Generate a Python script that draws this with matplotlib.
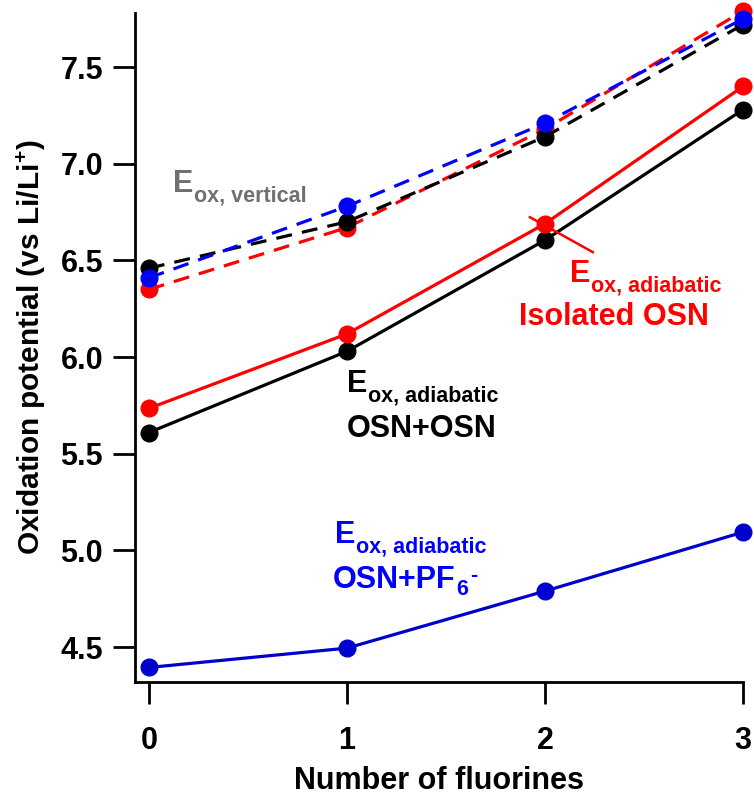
import matplotlib
matplotlib.use("Agg")
import matplotlib.pyplot as plt

# ---- data ----
n_fluorines = [0, 1, 2, 3]
vert_osn_osn = [6.46, 6.70, 7.14, 7.72]
vert_isolated = [6.35, 6.67, 7.18, 7.79]
vert_pf6 = [6.41, 6.78, 7.21, 7.75]
adia_osn_osn = [5.61, 6.03, 6.605, 7.28]
adia_isolated = [5.735, 6.12, 6.69, 7.40]
adia_pf6 = [4.395, 4.495, 4.79, 5.095]

xticks = [0, 1, 2, 3]
yticks = [4.5, 5.0, 5.5, 6.0, 6.5, 7.0, 7.5]

plt.rcParams['font.family'] = ['Liberation Sans', 'DejaVu Sans']
plt.rcParams['font.weight'] = 'bold'
plt.rcParams['mathtext.fontset'] = 'custom'
plt.rcParams['mathtext.bf'] = 'Liberation Sans:bold'
plt.rcParams['mathtext.rm'] = 'Liberation Sans:bold'

FS = 22
SUB = 15.5
RED = '#FF0000'
BLUE = '#0000FF'
DBLUE = '#0000CD'
BLACK = '#000000'
GRAY = '#707070'

fig = plt.figure(figsize=(7.54, 7.98), dpi=100)
ax = fig.add_axes([0.179, 0.1454, 0.9854 - 0.179, 0.9837 - 0.1454])

lw = 2.3
ms = 12
dash = (5, 3.2)

# dashed (vertical)
ax.plot(n_fluorines, vert_isolated, color=RED, lw=lw, dashes=dash, marker='o', ms=ms, clip_on=False, zorder=3)
ax.plot(n_fluorines, vert_osn_osn, color=BLACK, lw=lw, dashes=dash, marker='o', ms=ms, clip_on=False, zorder=3)
ax.plot(n_fluorines, vert_pf6, color=BLUE, lw=lw, dashes=dash, marker='o', ms=ms, clip_on=False, zorder=3)

# solid (adiabatic)
ax.plot(n_fluorines, adia_osn_osn, color=BLACK, lw=lw, marker='o', ms=ms, clip_on=False, zorder=3)
ax.plot(n_fluorines, adia_isolated, color=RED, lw=lw, marker='o', ms=ms, clip_on=False, zorder=4)
ax.plot(n_fluorines, adia_pf6, color=DBLUE, lw=lw, marker='o', ms=ms, clip_on=False, zorder=3)

ax.set_xlim(-0.07, 3.0)
ax.set_ylim(4.32, 7.78)
ax.set_xticks(xticks)
ax.set_xticklabels([str(v) for v in xticks])
ax.set_yticks(yticks)
ax.set_yticklabels([f"{v:.1f}" for v in yticks])

for s in ['top', 'right']:
    ax.spines[s].set_visible(False)
for s in ['left', 'bottom']:
    ax.spines[s].set_linewidth(2)

ax.tick_params(axis='both', width=2, length=16, labelsize=FS, direction='out')
ax.tick_params(axis='y', pad=7)
ax.tick_params(axis='x', pad=16)
for lab in ax.get_xticklabels() + ax.get_yticklabels():
    lab.set_fontweight('bold')

ax.set_xlabel('Number of fluorines', fontsize=FS, fontweight='bold', labelpad=7)
ax.set_ylabel(r'Oxidation potential (vs Li/Li$^{\mathbf{+}}$)', fontsize=21.5, fontweight='bold', labelpad=9)


def e_label(x, y, sub, color):
    t = ax.text(x, y, 'E', color=color, fontsize=FS, fontweight='bold', ha='left', va='baseline')
    ax.annotate(sub, xy=(1, y), xycoords=(t, 'data'), xytext=(0.5, -6.5), textcoords='offset points',
                color=color, fontsize=SUB, fontweight='bold', ha='left', va='baseline')


# annotations
e_label(0.121, 6.853, 'ox, vertical', GRAY)

e_label(1.0, 5.819, 'ox, adiabatic', BLACK)
ax.text(1.0, 5.586, 'OSN+OSN', color=BLACK, fontsize=FS, fontweight='bold', ha='left', va='baseline')

e_label(2.126, 6.388, 'ox, adiabatic', RED)
ax.text(1.869, 6.165, 'Isolated OSN', color=RED, fontsize=FS, fontweight='bold', ha='left', va='baseline')
ax.plot([1.924, 2.242], [6.724, 6.543], color=RED, lw=1.8, zorder=5)

e_label(0.939, 5.037, 'ox, adiabatic', BLUE)
pf = ax.text(0.929, 4.805, 'OSN+PF', color=BLUE, fontsize=FS, fontweight='bold', ha='left', va='baseline')
six = ax.annotate('6', xy=(1, 4.805), xycoords=(pf, 'data'), xytext=(0.5, -5), textcoords='offset points',
                  color=BLUE, fontsize=SUB, fontweight='bold', ha='left', va='baseline')
ax.annotate('-', xy=(1, 4.805), xycoords=(six, 'data'), xytext=(1.5, 5), textcoords='offset points',
            color=BLUE, fontsize=SUB, fontweight='bold', ha='left', va='baseline')

fig.savefig('out.png', dpi=100)
